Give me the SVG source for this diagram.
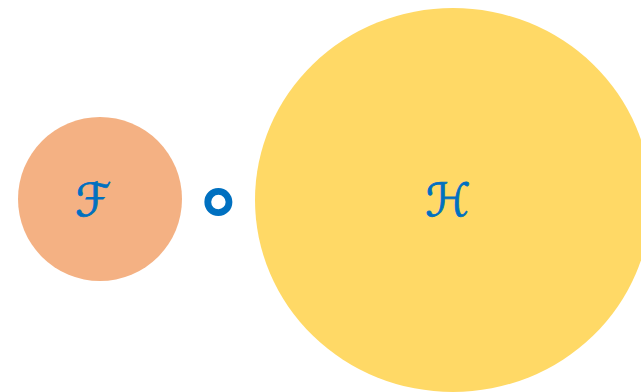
<svg xmlns="http://www.w3.org/2000/svg" width="641" height="392" viewBox="0 0 641 392">
<style>
.lbl{font-family:"DejaVu Sans","Liberation Serif",serif;fill:#0070C0;text-anchor:middle}
.thick{stroke:#0070C0;stroke-width:0.8}
</style>
<rect width="641" height="392" fill="#FFFFFF"/>
<g id="nodeF">
<circle cx="100" cy="199" r="82" fill="#F4B183"/>
<text class="lbl thick" x="93" y="216" font-size="46">ℱ</text>
</g>
<g id="compose">
<text class="lbl" x="218.5" y="229" font-size="86" font-weight="bold">∘</text>
</g>
<g id="nodeH">
<ellipse cx="453" cy="200" rx="198" ry="192" fill="#FFD966"/>
<text class="lbl thick" x="448" y="216" font-size="46">ℋ</text>
</g>
<g id="connectors"/>
</svg>
